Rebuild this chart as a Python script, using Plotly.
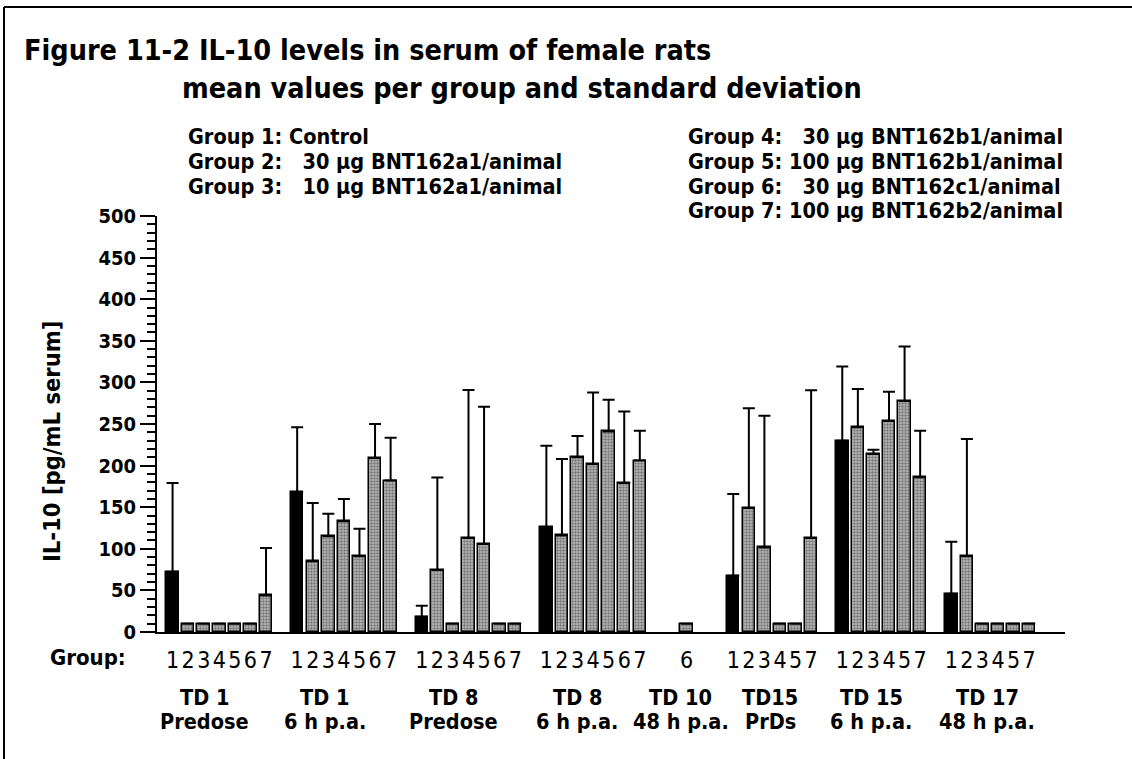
import plotly.graph_objects as go

# ---------------- data ----------------
timepoints = [("TD 1", "Predose"), ("TD 1", "6 h p.a."), ("TD 8", "Predose"), ("TD 8", "6 h p.a."),
              ("TD 10", "48 h p.a."), ("TD15", "PrDs"), ("TD 15", "6 h p.a."), ("TD 17", "48 h p.a.")]
group_ids = [
    [1, 2, 3, 4, 5, 6, 7],
    [1, 2, 3, 4, 5, 6, 7],
    [1, 2, 3, 4, 5, 6, 7],
    [1, 2, 3, 4, 5, 6, 7],
    [6],
    [1, 2, 3, 4, 5, 7],
    [1, 2, 3, 4, 5, 7],
    [1, 2, 3, 4, 5, 7],
]
means = [
    [72.5, 10, 10, 10, 10, 10, 44],
    [168, 85, 115, 133, 91, 209, 182],
    [18.4, 74.5, 10, 113, 105.8, 10, 10],
    [126, 116, 210, 202, 241, 179, 206],
    [10],
    [67.7, 149, 101.7, 10, 10, 113],
    [230, 246, 214, 253.6, 277.6, 186],
    [46, 91, 10, 10, 10, 10],
]
sds = [
    [106.5, 0, 0, 0, 0, 0, 57],
    [78, 70, 27, 27, 33, 41, 51.5],
    [13.2, 111.3, 0, 178, 165, 0, 0],
    [98, 92, 25.6, 86, 38, 86, 36],
    [0],
    [98.3, 120, 158.3, 0, 0, 177.5],
    [89, 46, 5, 35.2, 65.4, 56],
    [62.5, 141, 0, 0, 0, 0],
]
legend_left = ["Group 1: Control",
               "Group 2:   30 µg BNT162a1/animal",
               "Group 3:   10 µg BNT162a1/animal"]
legend_right = ["Group 4:   30 µg BNT162b1/animal",
                "Group 5: 100 µg BNT162b1/animal",
                "Group 6:   30 µg BNT162c1/animal",
                "Group 7: 100 µg BNT162b2/animal"]
y_ticks = [0, 50, 100, 150, 200, 250, 300, 350, 400, 450, 500]

# ---------------- layout helpers ----------------
W, H = 1132, 759
L, R, T, B = 157, 67, 216, 127
PW, PH = W - L - R, H - T - B
X0, X1 = -1, 57.3
def px(x):
    return (x - L) / PW
def py(y):
    return (H - B - y) / PH
def slot_px(s):
    return L + (s - X0) / (X1 - X0) * PW

gap_before = [0, 1, 1, 1, 2, 2, 1, 1]           # empty slots before each time point
label_shift_px = [-15, -19, -15, -16, -6, -2, -10, -3]
slot = 0
ctrl_x, ctrl_y, ctrl_e = [], [], []
trt_x, trt_y, trt_e = [], [], []
tick_x, tick_t, tp_center = [], [], []
for i, (gids, m, s) in enumerate(zip(group_ids, means, sds)):
    slot += gap_before[i]
    xs = list(range(slot, slot + len(gids)))
    tp_center.append((xs[0] + xs[-1]) / 2)
    for g, x, v, e in zip(gids, xs, m, s):
        tick_x.append(x); tick_t.append(str(g))
        if g == 1:
            ctrl_x.append(x); ctrl_y.append(v); ctrl_e.append(e)
        else:
            trt_x.append(x); trt_y.append(v); trt_e.append(e)
    slot += len(gids)

err_style = dict(type="data", symmetric=False, visible=True, color="black",
                 thickness=2, width=6)

fig = go.Figure()
fig.add_trace(go.Bar(
    x=ctrl_x, y=ctrl_y, width=0.8,
    marker=dict(color="black", line=dict(color="black", width=1.5)),
    error_y=dict(array=ctrl_e, arrayminus=[0] * len(ctrl_e), **err_style),
    showlegend=False))
fig.add_trace(go.Bar(
    x=trt_x, y=trt_y, width=0.8,
    marker=dict(color="#8e8e8e", line=dict(color="black", width=1.5),
                pattern=dict(shape=".", fgcolor="#333333", bgcolor="#bcbcbc",
                             size=3, solidity=0.5)),
    error_y=dict(array=trt_e, arrayminus=[0] * len(trt_e), **err_style),
    showlegend=False))

FONT = "DejaVu Sans Condensed, DejaVu Sans, sans-serif"
ann = []
def add(text, x, y, size, xanchor="left", bold=True, **kw):
    d = dict(text=text, x=px(x), y=py(y), xanchor=xanchor, yanchor="middle",
             font=dict(size=size, family=FONT, color="black",
                       weight="bold" if bold else "normal"),
             xref="paper", yref="paper", showarrow=False)
    d.update(kw)
    ann.append(d)

# title
add("Figure 11-2 IL-10 levels in serum of female rats", 22, 50, 28.5)
add("mean values per group and standard deviation", 180, 88, 28.5)
# legend texts
for i, t in enumerate(legend_left):
    add(t, 186, 137 + 24.5 * i, 21.5)
for i, t in enumerate(legend_right):
    add(t, 686, 137 + 24.5 * i, 21.5)
# y title
add("IL-10 [pg/mL serum]", 52, 441, 23.5, xanchor="center", textangle=-90)
# group row label
add("Group:", 128, 657, 22, xanchor="right")
# time point labels
for c, (l1, l2), sh in zip(tp_center, timepoints, label_shift_px):
    xc = slot_px(c) + sh
    add(l1, xc, 697, 21.5, xanchor="center")
    add(l2, xc, 721, 21.5, xanchor="center")

shapes = [
    dict(type="line", xref="paper", yref="paper", x0=px(4), x1=px(W + 5), y0=py(7), y1=py(7),
         line=dict(color="black", width=2)),
    dict(type="line", xref="paper", yref="paper", x0=px(4), x1=px(4), y0=py(7), y1=py(H + 5),
         line=dict(color="black", width=2)),
]

fig.update_layout(
    width=W, height=H, margin=dict(l=L, r=R, t=T, b=B),
    paper_bgcolor="white", plot_bgcolor="white",
    barmode="overlay", bargap=0,
    font=dict(family=FONT, color="black"),
    annotations=ann, shapes=shapes,
    xaxis=dict(range=[X0, X1], showgrid=False, zeroline=False,
               tickvals=tick_x, ticktext=tick_t, ticks="", ticklabelstandoff=6,
               tickfont=dict(size=23, family=FONT, color="black"),
               showline=True, linecolor="black", linewidth=2, fixedrange=True),
    yaxis=dict(range=[0, 500], tickvals=y_ticks, ticks="outside", ticklen=15, tickwidth=2,
               tickcolor="black", showline=True, linecolor="black", linewidth=2,
               showgrid=False, zeroline=False,
               tickfont=dict(size=20, family=FONT, color="black", weight="bold"),
               minor=dict(dtick=10, ticks="outside", ticklen=8, tickwidth=1.5,
                          tickcolor="black", showgrid=False)),
)
fig.write_html("out.html")
